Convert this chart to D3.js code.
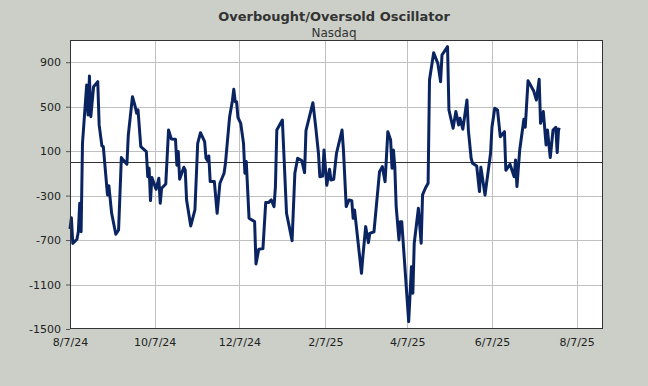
<!DOCTYPE html>
<html>
<head>
<meta charset="utf-8">
<script src="https://cdn.jsdelivr.net/npm/d3@7"></script>
<style>
  body { margin: 0; background: #cbcfc8; }
  svg { display: block; font-family: "DejaVu Sans", Verdana, sans-serif; }
</style>
</head>
<body>
<div id="chart"></div>
<script>
// readings, one value per date
var dates = [
  "2024-08-07","2024-08-08","2024-08-09","2024-08-12","2024-08-13","2024-08-14","2024-08-15","2024-08-16",
  "2024-08-19","2024-08-20","2024-08-21","2024-08-22","2024-08-24","2024-08-27","2024-08-28","2024-08-30",
  "2024-08-31","2024-09-03","2024-09-04","2024-09-06","2024-09-09","2024-09-11","2024-09-13","2024-09-15",
  "2024-09-17","2024-09-18","2024-09-21","2024-09-23","2024-09-24","2024-09-25","2024-09-27","2024-10-01",
  "2024-10-02","2024-10-03","2024-10-04","2024-10-05","2024-10-08","2024-10-10","2024-10-11","2024-10-12",
  "2024-10-15","2024-10-17","2024-10-19","2024-10-22","2024-10-23","2024-10-24","2024-10-25","2024-10-28",
  "2024-10-29","2024-10-30","2024-11-02","2024-11-05","2024-11-07","2024-11-09","2024-11-12","2024-11-13",
  "2024-11-14","2024-11-15","2024-11-16","2024-11-19","2024-11-21","2024-11-23","2024-11-26","2024-11-27",
  "2024-11-30","2024-12-02","2024-12-03","2024-12-04","2024-12-05","2024-12-06","2024-12-08","2024-12-10",
  "2024-12-11","2024-12-12","2024-12-14","2024-12-18","2024-12-19","2024-12-21","2024-12-24","2024-12-26",
  "2024-12-28","2024-12-30","2025-01-01","2025-01-02","2025-01-03","2025-01-07","2025-01-10","2025-01-14",
  "2025-01-16","2025-01-18","2025-01-21","2025-01-23","2025-01-24","2025-01-29","2025-01-31","2025-02-02",
  "2025-02-03","2025-02-05","2025-02-06","2025-02-08","2025-02-10","2025-02-11","2025-02-13","2025-02-15",
  "2025-02-19","2025-02-20","2025-02-22","2025-02-24","2025-02-26","2025-02-27","2025-02-28","2025-03-05",
  "2025-03-06","2025-03-08","2025-03-10","2025-03-11","2025-03-14","2025-03-18","2025-03-20","2025-03-22",
  "2025-03-24","2025-03-26","2025-03-27","2025-03-28","2025-03-29","2025-03-30","2025-04-01","2025-04-02",
  "2025-04-03","2025-04-08","2025-04-10","2025-04-11","2025-04-12","2025-04-15","2025-04-17","2025-04-18",
  "2025-04-20","2025-04-22","2025-04-23","2025-04-26","2025-04-29","2025-05-01","2025-05-02","2025-05-06",
  "2025-05-07","2025-05-10","2025-05-12","2025-05-14","2025-05-15","2025-05-17","2025-05-20","2025-05-21",
  "2025-05-23","2025-05-24","2025-05-27","2025-05-29","2025-05-30","2025-06-02","2025-06-06","2025-06-07",
  "2025-06-09","2025-06-11","2025-06-13","2025-06-16","2025-06-17","2025-06-20","2025-06-23","2025-06-24",
  "2025-06-25","2025-06-27","2025-06-30","2025-07-01","2025-07-03","2025-07-07","2025-07-09","2025-07-11",
  "2025-07-12","2025-07-14","2025-07-16","2025-07-17","2025-07-19","2025-07-21","2025-07-23","2025-07-24",
  "2025-07-25","2025-07-26"
];

var values = [
  -600, -500, -730, -693, -625, -369, -625, 171,
  695, 425, 776, 410, 680, 725, 336, 147,
  141, -294, -211, -459, -648, -609, 42, 12,
  -18, 243, 590, 500, 441, 471, 141, 96,
  -130, -54, -345, -136, -243, -144, -369, -234,
  -195, 290, 210, 207, -27, 96, -153, -45,
  -69, -339, -573, -429, 171, 266, 186, 36,
  15, 57, -174, -174, -459, -189, -99, -9,
  410, 554, 657, 545, 545, 404, 350, 171,
  -99, 6, -504, -534, -915, -783, -777, -363,
  -363, -339, -399, -219, 290, 380, -459, -705,
  -99, 36, 15, -93, 284, 536, 320, 81,
  -130, -124, 111, -207, -63, -159, -153, 81,
  290, 111, -399, -339, -345, -504, -429, -999,
  -849, -579, -723, -639, -625, -84, -39, -174,
  275, 200, -54, 111, -39, -399, -699, -534,
  -534, -1434, -939, -1179, -729, -414, -729, -294,
  -234, -189, 740, 986, 890, 725, 965, 1040,
  471, 306, 456, 336, 396, 297, 560, 290,
  36, -9, -33, -264, -45, -294, 81, 315,
  486, 471, 230, 275, -72, -18, -130, 21,
  -219, 111, 387, 315, 734, 644, 560, 746,
  350, 456, 156, 290, 42, 290, 315, 87,
  300, 290
];

var yTicks = [900, 500, 100, -300, -700, -1100, -1500];
var xTicks = ["2024-08-07","2024-10-07","2024-12-07","2025-02-07","2025-04-07","2025-06-07","2025-08-07"];
var xEnd = "2025-08-26";

var width = 648, height = 386;
var margin = {top: 40, right: 45, bottom: 57, left: 70};

var parse = d3.timeParse("%Y-%m-%d");
var fmt = function(d) { return (d.getMonth() + 1) + "/" + d.getDate() + "/" + String(d.getFullYear()).slice(2); };

var data = dates.map(function(d, i) { return {date: parse(d), value: values[i]}; });

var svg = d3.select("#chart").append("svg")
    .attr("width", width)
    .attr("height", height);

svg.append("rect").attr("width", width).attr("height", height).attr("fill", "#cbcfc8");

var x = d3.scaleTime()
    .domain([parse(xTicks[0]), parse(xEnd)])
    .range([margin.left, width - margin.right]);

var y = d3.scaleLinear()
    .domain([-1500, 1100])
    .range([height - margin.bottom, margin.top]);

// plot background
svg.append("rect")
    .attr("x", margin.left).attr("y", margin.top)
    .attr("width", width - margin.left - margin.right)
    .attr("height", height - margin.top - margin.bottom)
    .attr("fill", "#fff");

// grid
svg.append("g").selectAll("line")
    .data(yTicks.slice(0, -1))
    .enter().append("line")
    .attr("x1", margin.left).attr("x2", width - margin.right)
    .attr("y1", function(d) { return Math.round(y(d)) + 0.5; })
    .attr("y2", function(d) { return Math.round(y(d)) + 0.5; })
    .attr("stroke", "#c0c0c0");

svg.append("g").selectAll("line")
    .data(xTicks.slice(1))
    .enter().append("line")
    .attr("x1", function(d) { return Math.round(x(parse(d))) + 0.5; })
    .attr("x2", function(d) { return Math.round(x(parse(d))) + 0.5; })
    .attr("y1", margin.top).attr("y2", height - margin.bottom)
    .attr("stroke", "#c0c0c0");

// zero line
svg.append("line")
    .attr("x1", margin.left).attr("x2", width - margin.right)
    .attr("y1", Math.round(y(0)) + 0.5).attr("y2", Math.round(y(0)) + 0.5)
    .attr("stroke", "#333");

// axes
var yAxis = d3.axisLeft(y).tickValues(yTicks).tickFormat(function(d) { return String(d); })
    .tickSize(4).tickPadding(5);
var xAxis = d3.axisBottom(x).tickValues(xTicks.map(parse)).tickFormat(fmt).tickSize(0).tickPadding(9);

var gy = svg.append("g")
    .attr("transform", "translate(" + margin.left + ",0)")
    .call(yAxis);
var gx = svg.append("g")
    .attr("transform", "translate(0," + (height - margin.bottom) + ")")
    .call(xAxis);

[gx, gy].forEach(function(g) {
    g.select(".domain").remove();
    g.selectAll("line").attr("stroke", "#555");
    g.selectAll("text").attr("fill", "#222").style("font-size", "11px")
        .style("font-family", "'DejaVu Sans', Verdana, sans-serif");
});

// the oscillator
var line = d3.line()
    .x(function(d) { return x(d.date); })
    .y(function(d) { return y(d.value); });

svg.append("path")
    .datum(data)
    .attr("d", line)
    .attr("fill", "none")
    .attr("stroke", "#0a2462")
    .attr("stroke-width", 3)
    .attr("stroke-linejoin", "round");

// frame
svg.append("rect")
    .attr("x", margin.left + 0.5).attr("y", margin.top + 0.5)
    .attr("width", width - margin.left - margin.right - 1)
    .attr("height", height - margin.top - margin.bottom - 1)
    .attr("fill", "none")
    .attr("stroke", "#333");

// titles
svg.append("text")
    .attr("x", 334).attr("y", 21)
    .attr("text-anchor", "middle")
    .attr("fill", "#333")
    .style("font-size", "13px").style("font-weight", "bold")
    .text("Overbought/Oversold Oscillator");

svg.append("text")
    .attr("x", 334).attr("y", 37)
    .attr("text-anchor", "middle")
    .attr("fill", "#333")
    .style("font-size", "12px")
    .text("Nasdaq");
</script>
</body>
</html>
